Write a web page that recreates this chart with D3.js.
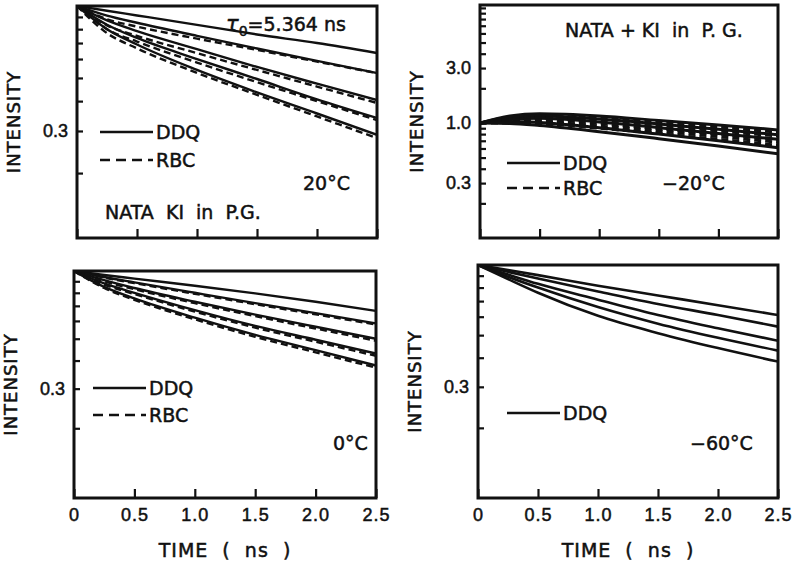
<!DOCTYPE html>
<html>
<head>
<meta charset="utf-8">
<script src="https://cdn.jsdelivr.net/npm/d3@7"></script>
<style>
  body { margin: 0; background: #fff; }
  svg { font-family: "DejaVu Sans", sans-serif; }
  text { stroke: #111; stroke-width: 0.5px; }
  .frame { fill: none; stroke: #111; stroke-width: 3; }
  .axis path { display: none; }
  .axis line { stroke: #111; stroke-width: 2.2; }
  .axis text { font-size: 18px; fill: #111; }
  .curve { fill: none; stroke: #111; stroke-width: 2.4; }
  .note { font-size: 19px; fill: #111; }
  .title { font-size: 18px; fill: #111; letter-spacing: 1px; }
</style>
</head>
<body>
<svg id="chart" width="800" height="562"></svg>
<script>
// time grid (ns) shared by every curve
var tGrid = [0, 0.25, 0.5, 1.0, 1.5, 2.0, 2.5];
var xTicks = [0, 0.5, 1.0, 1.5, 2.0, 2.5];

// 20 C  (NATA KI in P.G.)
var ddq20 = [
  [1, 0.955, 0.913, 0.834, 0.76, 0.70, 0.636],
  [1, 0.912, 0.851, 0.75, 0.664, 0.589, 0.524],
  [1, 0.87, 0.785, 0.66, 0.556, 0.473, 0.404],
  [1, 0.835, 0.735, 0.60, 0.495, 0.407, 0.340],
  [1, 0.80, 0.69, 0.54, 0.435, 0.355, 0.289]
];
var rbc20 = [
  [1, 0.88, 0.82, 0.73, 0.655, 0.585, 0.524],
  [1, 0.83, 0.75, 0.635, 0.54, 0.46, 0.393],
  [1, 0.80, 0.71, 0.58, 0.48, 0.40, 0.333],
  [1, 0.77, 0.665, 0.525, 0.425, 0.345, 0.280]
];

// -20 C
var ddqM20 = [
  [1, 1.15, 1.20, 1.15, 1.05, 0.96, 0.87],
  [1, 1.12, 1.15, 1.08, 0.98, 0.88, 0.79],
  [1, 1.08, 1.10, 1.02, 0.91, 0.81, 0.72],
  [1, 1.03, 1.01, 0.91, 0.80, 0.70, 0.61],
  [1, 0.99, 0.95, 0.84, 0.73, 0.63, 0.54]
];
var rbcM20 = [
  [1, 1.10, 1.14, 1.10, 1.01, 0.92, 0.83],
  [1, 1.07, 1.10, 1.04, 0.95, 0.85, 0.77],
  [1, 1.05, 1.06, 0.99, 0.89, 0.80, 0.72],
  [1, 1.02, 1.02, 0.94, 0.85, 0.76, 0.68],
  [1, 1.00, 0.99, 0.90, 0.81, 0.72, 0.64]
];

// 0 C
var ddq0 = [
  [1, 0.96, 0.925, 0.86, 0.795, 0.73, 0.665],
  [1, 0.94, 0.89, 0.80, 0.72, 0.65, 0.585],
  [1, 0.91, 0.84, 0.73, 0.64, 0.565, 0.50],
  [1, 0.88, 0.80, 0.67, 0.57, 0.495, 0.43],
  [1, 0.85, 0.755, 0.62, 0.52, 0.445, 0.38]
];
var rbc0 = [
  [1, 0.935, 0.883, 0.792, 0.712, 0.642, 0.578],
  [1, 0.90, 0.83, 0.72, 0.63, 0.555, 0.49],
  [1, 0.87, 0.79, 0.66, 0.56, 0.485, 0.42],
  [1, 0.84, 0.745, 0.61, 0.51, 0.435, 0.372]
];

// -60 C
var ddqM60 = [
  [1, 0.952, 0.905, 0.815, 0.74, 0.672, 0.61],
  [1, 0.935, 0.875, 0.77, 0.68, 0.61, 0.544],
  [1, 0.91, 0.83, 0.71, 0.61, 0.535, 0.473],
  [1, 0.89, 0.80, 0.66, 0.56, 0.487, 0.429],
  [1, 0.87, 0.76, 0.605, 0.51, 0.44, 0.385]
];

var minorLow = [0.2, 0.3, 0.4, 0.5, 0.6, 0.7, 0.8, 0.9];
var minorHigh = minorLow.concat([1, 2, 3, 4, 5, 6, 7, 8, 9, 10]);

var panels = [
  {x0: 77, x1: 377, y0: 6, y1: 238, yDom: [0.107, 1], yTicks: minorLow, yLabels: [0.3], xLab: false,
   solid: ddq20, dashed: rbc20, lw: 2.4,
   legend: {x: 100, y: 132, y2: 160, rbc: true},
   notes: [{t: "20°C", x: 303, y: 190}, {t: "NATA  KI  in  P.G.", x: 105, y: 219}]},
  {x0: 480, x1: 778, y0: 5, y1: 238, yDom: [0.1, 10.6], yTicks: minorHigh, yLabels: [0.3, 1, 3], xLab: false,
   solid: ddqM20, dashed: rbcM20, lw: 3,
   legend: {x: 507, y: 163, y2: 188, rbc: true},
   notes: [{t: "−20°C", x: 662, y: 190}, {t: "NATA + KI  in  P. G.", x: 565, y: 37}]},
  {x0: 74, x1: 376, y0: 271, y1: 498, yDom: [0.098, 1], yTicks: minorLow, yLabels: [0.3], xLab: true,
   solid: ddq0, dashed: rbc0, lw: 2.4,
   legend: {x: 93, y: 388, y2: 415, rbc: true},
   notes: [{t: "0°C", x: 333, y: 450}]},
  {x0: 478, x1: 778, y0: 265, y1: 498, yDom: [0.1, 1], yTicks: minorLow, yLabels: [0.3], xLab: true,
   solid: ddqM60, dashed: [], lw: 2.6,
   legend: {x: 507, y: 413, rbc: false},
   notes: [{t: "−60°C", x: 690, y: 450}]}
];

var svg = d3.select("#chart");

panels.forEach(function(p) {
  var x = d3.scaleLinear().domain([0, 2.5]).range([p.x0, p.x1]);
  var y = d3.scaleLog().domain(p.yDom).range([p.y1, p.y0]);
  var g = svg.append("g");

  var clipId = "clip" + p.x0 + p.y0;
  g.append("clipPath").attr("id", clipId)
    .append("rect").attr("x", p.x0).attr("y", p.y0)
    .attr("width", p.x1 - p.x0).attr("height", p.y1 - p.y0);

  var line = d3.line()
    .x(function(d, i) { return x(tGrid[i]); })
    .y(function(d) { return y(d); })
    .curve(d3.curveMonotoneX);

  var curves = g.append("g").attr("clip-path", "url(#" + clipId + ")");
  curves.selectAll(".solid")
    .data(p.solid)
    .enter()
    .append("path")
    .attr("class", "curve")
    .attr("d", line)
    .style("stroke-width", p.lw);
  curves.selectAll(".dashed")
    .data(p.dashed)
    .enter()
    .append("path")
    .attr("class", "curve")
    .attr("d", line)
    .style("stroke-width", p.lw)
    .style("stroke-dasharray", "7,4");

  // x axis, ticks pointing inward
  g.append("g")
    .attr("class", "axis")
    .attr("transform", "translate(0," + p.y1 + ")")
    .call(d3.axisBottom(x).tickValues(xTicks).tickSize(-9).tickPadding(10)
      .tickFormat(function(d) {
        if (!p.xLab) return "";
        return d === 0 ? "0" : d3.format(".1f")(d);
      }))
    .selectAll("text").style("letter-spacing", "1px");

  // y axis, log minor ticks
  g.append("g")
    .attr("class", "axis")
    .attr("transform", "translate(" + p.x0 + ",0)")
    .call(d3.axisLeft(y).tickValues(p.yTicks).tickSize(-6).tickPadding(9)
      .tickFormat(function(d) {
        return p.yLabels.indexOf(d) >= 0 ? d3.format(".1f")(d) : "";
      }));

  g.append("rect")
    .attr("class", "frame")
    .attr("x", p.x0).attr("y", p.y0)
    .attr("width", p.x1 - p.x0).attr("height", p.y1 - p.y0);

  // y title
  var cy = (p.y0 + p.y1) / 2;
  g.append("text")
    .attr("class", "title")
    .attr("transform", "translate(" + (p.x0 - 57) + "," + cy + ") rotate(-90)")
    .style("text-anchor", "middle")
    .text("INTENSITY");

  if (p.xLab) {
    g.append("text")
      .attr("class", "title")
      .attr("x", (p.x0 + p.x1) / 2)
      .attr("y", 557)
      .style("text-anchor", "middle")
      .style("font-size", "19px")
      .attr("xml:space", "preserve")
      .text("TIME  (  ns  )");
  }

  // legend
  var L = p.legend;
  g.append("line").attr("x1", L.x).attr("x2", L.x + 53)
    .attr("y1", L.y).attr("y2", L.y)
    .style("stroke", "#111").style("stroke-width", 2.4);
  g.append("text").attr("class", "note")
    .attr("x", L.x + 56).attr("y", L.y + 7).text("DDQ");
  if (L.rbc) {
    g.append("line").attr("x1", L.x).attr("x2", L.x + 53)
      .attr("y1", L.y2).attr("y2", L.y2)
      .style("stroke", "#111").style("stroke-width", 2.4)
      .style("stroke-dasharray", "10,6");
    g.append("text").attr("class", "note")
      .attr("x", L.x + 56).attr("y", L.y2 + 7).text("RBC");
  }

  p.notes.forEach(function(n) {
    g.append("text").attr("class", "note")
      .attr("x", n.x).attr("y", n.y)
      .attr("xml:space", "preserve")
      .text(n.t);
  });
});

// lifetime note in the first panel
var tau = svg.append("text").attr("class", "note").attr("x", 226).attr("y", 31);
tau.append("tspan").style("font-style", "italic").style("font-size", "21px").text("τ");
tau.append("tspan").attr("dy", 5).style("font-size", "14px").text("0");
tau.append("tspan").attr("dy", -5).text("=5.364 ns");
</script>
</body>
</html>
